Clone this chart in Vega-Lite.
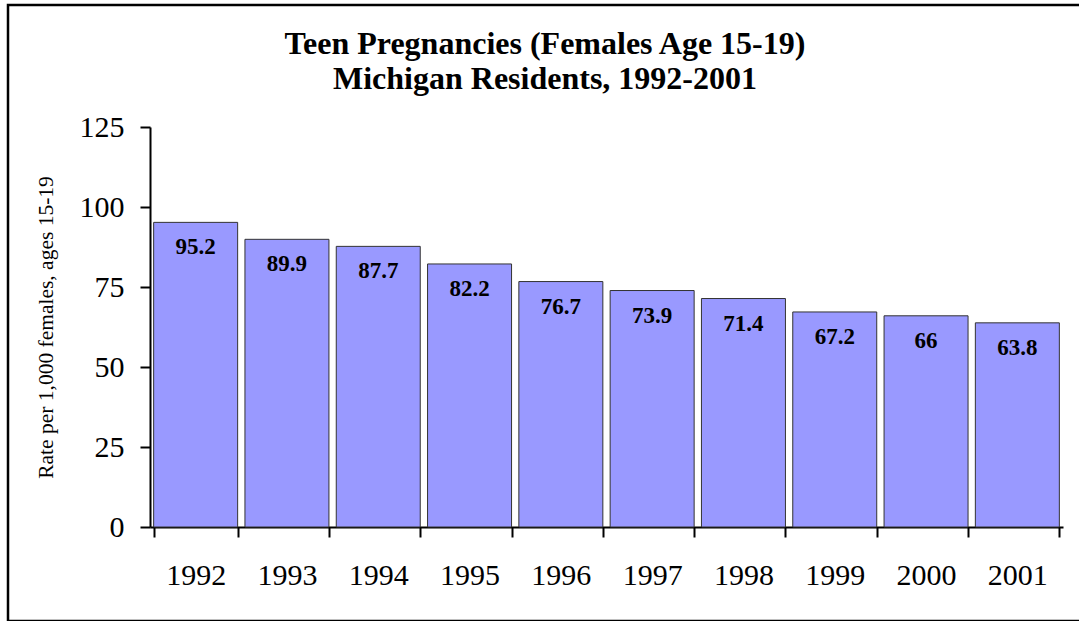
{
  "$schema": "https://vega.github.io/schema/vega-lite/v6.json",
  "autosize": {"type": "none"},
  "padding": {"left": 8, "top": 5, "right": 0, "bottom": 0},
  "width": 1085,
  "height": 616,
  "background": "white",
  "config": {
    "view": {"stroke": "black", "strokeWidth": 2.5},
    "font": "Liberation Serif",
    "axis": {"grid": false}
  },
  "title": {
    "text": ["Teen Pregnancies (Females Age 15-19)", "Michigan Residents, 1992-2001"],
    "fontSize": 32,
    "fontWeight": "bold",
    "font": "Liberation Serif",
    "color": "black",
    "lineHeight": 35,
    "anchor": "start",
    "dx": 537,
    "align": "center",
    "frame": "group",
    "offset": -91
  },
  "data": {
    "values": [
      {"year": "1992", "rate": 95.2},
      {"year": "1993", "rate": 89.9},
      {"year": "1994", "rate": 87.7},
      {"year": "1995", "rate": 82.2},
      {"year": "1996", "rate": 76.7},
      {"year": "1997", "rate": 73.9},
      {"year": "1998", "rate": 71.4},
      {"year": "1999", "rate": 67.2},
      {"year": "2000", "rate": 66},
      {"year": "2001", "rate": 63.8}
    ]
  },
  "encoding": {
    "x": {
      "field": "year",
      "type": "ordinal",
      "scale": {"range": [142, 1055], "paddingInner": 0.08, "paddingOuter": 0.04},
      "axis": {
        "title": null,
        "offset": -94,
        "tickBand": "extent",
        "labelAngle": 0,
        "labelFontSize": 30,
        "labelFont": "Liberation Serif",
        "labelColor": "black",
        "labelBaseline": "alphabetic",
        "labelPadding": 47,
        "tickSize": 10,
        "tickColor": "black",
        "tickWidth": 2,
        "domainColor": "black",
        "domainWidth": 2
      }
    },
    "y": {
      "field": "rate",
      "type": "quantitative",
      "scale": {"domain": [0, 125], "range": [522, 122], "nice": false},
      "axis": {
        "title": "Rate per 1,000 females, ages 15-19",
        "titleFontSize": 21.5,
        "titleFontWeight": "normal",
        "titleFont": "Liberation Serif",
        "titleColor": "black",
        "titlePadding": 22,
        "offset": -142,
        "values": [0, 25, 50, 75, 100, 125],
        "labelFontSize": 30,
        "labelFont": "Liberation Serif",
        "labelColor": "black",
        "labelPadding": 16,
        "tickSize": 10,
        "tickColor": "black",
        "tickWidth": 2,
        "domainColor": "black",
        "domainWidth": 2
      }
    }
  },
  "layer": [
    {"mark": {"type": "bar", "fill": "#9999FF", "stroke": "#333333", "strokeWidth": 1}},
    {
      "mark": {"type": "text", "dy": 32, "baseline": "alphabetic", "fontSize": 23, "fontWeight": "bold", "font": "Liberation Serif", "color": "black"},
      "encoding": {"text": {"field": "rate", "type": "quantitative"}}
    }
  ]
}
